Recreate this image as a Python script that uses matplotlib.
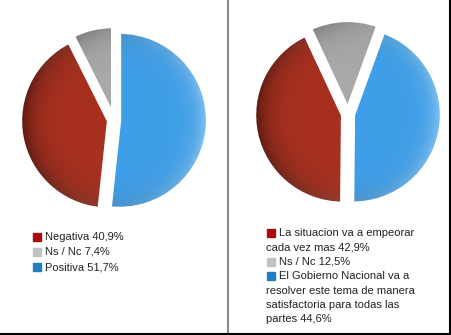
import matplotlib.pyplot as plt
import numpy as np
from matplotlib.patches import Rectangle
from matplotlib.colors import to_rgb

plt.rcParams['font.family'] = ['Liberation Sans', 'DejaVu Sans']

# datos del grafico izquierdo
izq_etiquetas = ['Negativa 40,9%', 'Ns / Nc 7,4%', 'Positiva 51,7%']
izq_valores = [51.7, 40.9, 7.4]   # orden horario: Positiva, Negativa, Ns/Nc

# datos del grafico derecho
der_etiquetas = [['La situacion va a empeorar', 'cada vez mas 42,9%'],
                 ['Ns / Nc 12,5%'],
                 ['El Gobierno Nacional va a', 'resolver este tema de manera',
                  'satisfactoria para todas las', 'partes 44,6%']]
der_valores = [44.6, 42.9, 12.5]  # orden horario: Gobierno, Empeorar, Ns/Nc

col_pie = ['#3f9fe9', '#a8301f', '#a9a9a9']
col_ley = ['#a80c0c', '#bfc3c5', '#1f7fc1']

W, H = 451, 335
fig = plt.figure(figsize=(W / 100, H / 100), dpi=100)


def caja(x0, y0, w, h):
    # convierte pixeles (desde arriba) a fracciones de figura
    return [x0 / W, 1 - (y0 + h) / H, w / W, h / H]


def sombrear(ax, wedge, color):
    # degradado dentro de cada porcion para imitar el efecto 3D
    n = 200
    xs = np.linspace(-1.1, 1.1, n)
    X, Y = np.meshgrid(xs, xs)
    R = np.sqrt(X ** 2 + Y ** 2)
    base = np.array(to_rgb(color))
    osc = np.clip(0.4 * (R ** 6) * (0.5 - 0.5 * X), 0, 0.45)
    luz = np.clip(0.3 * (R ** 8) * (0.5 + 0.5 * X), 0, 0.3)
    img = base[None, None, :] * (1 - osc[..., None]) + luz[..., None] * (1 - base[None, None, :])
    im = ax.imshow(np.clip(img, 0, 1), extent=(-1.1, 1.1, -1.1, 1.1), origin='lower', zorder=1)
    im.set_clip_path(wedge)


def torta(cx, cy, valores, inicio):
    ax = fig.add_axes(caja(cx - 100, cy - 100, 200, 200))
    wedges, _ = ax.pie(valores, colors=col_pie, startangle=inicio, counterclock=False,
                       explode=[0.06, 0.06, 0.06], radius=0.97,
                       wedgeprops=dict(edgecolor='white', linewidth=2.5))
    for w, c in zip(wedges, col_pie):
        sombrear(ax, w, c)
        w.set_zorder(2)
        w.set_facecolor('none')
    ax.set_xlim(-1.1, 1.1)
    ax.set_ylim(-1.1, 1.1)
    ax.set_aspect('equal')
    ax.axis('off')


torta(114, 120, izq_valores, 90)
torta(348, 114, der_valores, 70)

# leyenda izquierda
for i, etq in enumerate(izq_etiquetas):
    y = 237 + i * 15
    fig.patches.append(Rectangle((33 / W, 1 - (y + 4) / H), 8 / W, 8 / H,
                                 transform=fig.transFigure, color=col_ley[i]))
    fig.text(45 / W, 1 - y / H, etq, fontsize=8, color='#222222', va='center')

# leyenda derecha
y = 233
for i, lineas in enumerate(der_etiquetas):
    fig.patches.append(Rectangle((267 / W, 1 - (y + 4) / H), 8 / W, 8 / H,
                                 transform=fig.transFigure, color=col_ley[i]))
    for j, txt in enumerate(lineas):
        x = 279 if j == 0 else 266
        fig.text(x / W, 1 - y / H, txt, fontsize=8, color='#222222', va='center')
        y += 14.4

# lineas del marco
fig.add_artist(plt.Line2D([228 / W, 228 / W], [0, 1], color='#888888', lw=1.5))
fig.add_artist(plt.Line2D([449.5 / W, 449.5 / W], [0, 1], color='black', lw=1.5))
fig.add_artist(plt.Line2D([0, 1], [1.5 / H, 1.5 / H], color='black', lw=1.5))

fig.savefig('out.png', dpi=100)
